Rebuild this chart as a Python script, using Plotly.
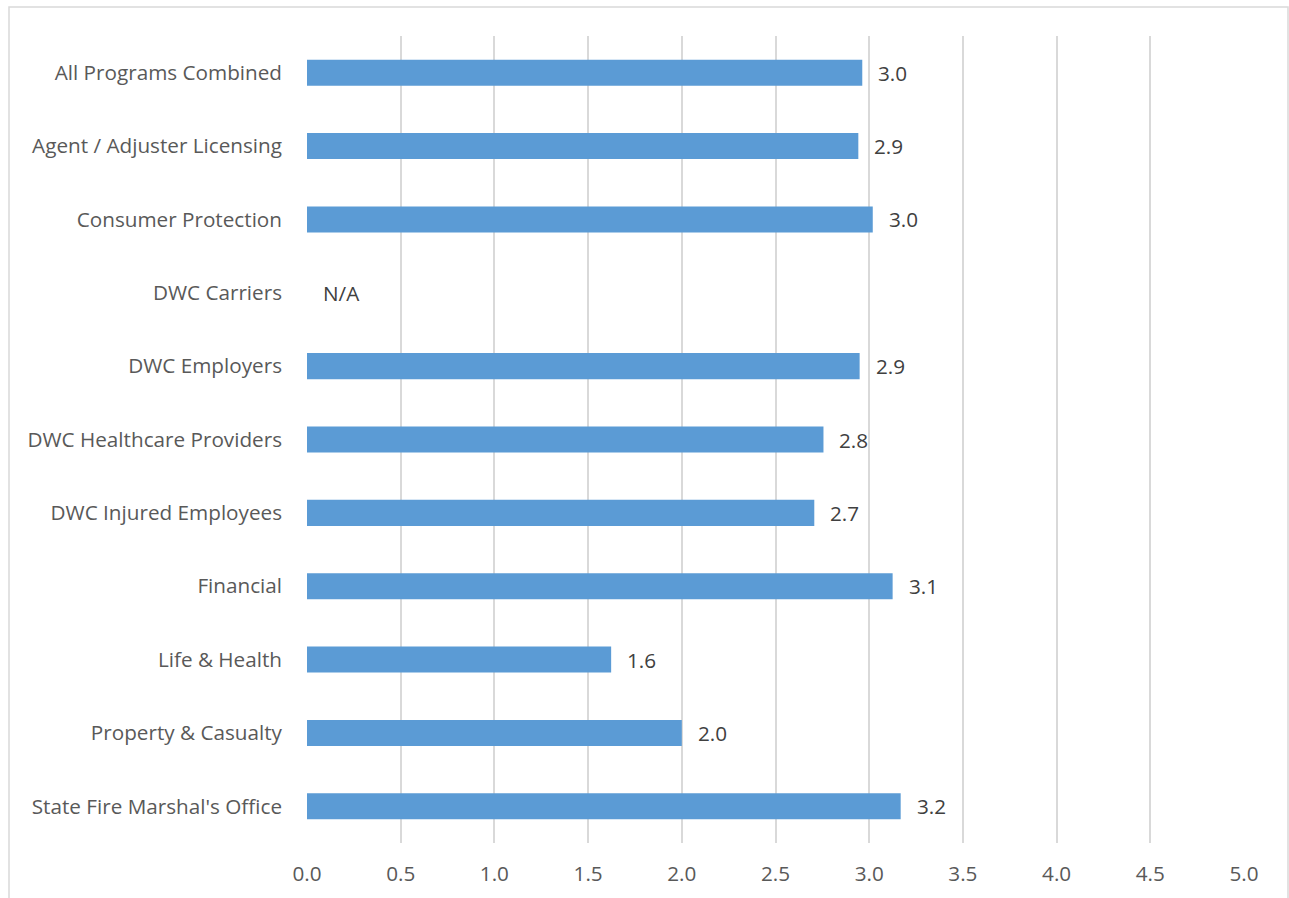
import plotly.graph_objects as go

# Program areas, listed top to bottom
programs = [
    "All Programs Combined",
    "Agent / Adjuster Licensing",
    "Consumer Protection",
    "DWC Carriers",
    "DWC Employers",
    "DWC Healthcare Providers",
    "DWC Injured Employees",
    "Financial",
    "Life & Health",
    "Property & Casualty",
    "State Fire Marshal's Office",
]
# Average score per program (None = not available)
scores = [2.963, 2.942, 3.019, None, 2.949, 2.756, 2.707, 3.125, 1.623, 2.0, 3.168]

x_ticks = [0, 0.5, 1, 1.5, 2, 2.5, 3, 3.5, 4, 4.5, 5]
x_tick_labels = ["0.0", "0.5", "1.0", "1.5", "2.0", "2.5", "3.0", "3.5", "4.0", "4.5", "5.0"]

BAR_COLOR = "#5B9BD5"
FONT = "Open Sans"
SIZE = 20.7

fig = go.Figure(
    go.Bar(
        x=scores,
        y=programs,
        orientation="h",
        width=0.355,
        marker=dict(color=BAR_COLOR, line=dict(width=0)),
        hoverinfo="x+y",
    )
)

# Value labels to the right of each bar; "N/A" where no score exists
annotations = []
for name, val in zip(programs, scores):
    annotations.append(dict(
        x=0 if val is None else val,
        y=name, xref="x", yref="y",
        text="N/A" if val is None else f"{val:.1f}",
        showarrow=False, xanchor="left", xshift=14,
        font=dict(family=FONT, size=SIZE, color="#404040"),
    ))

fig.update_layout(
    width=1289,
    height=898,
    margin=dict(l=307, r=45, t=36, b=55, pad=0),
    paper_bgcolor="white",
    plot_bgcolor="white",
    showlegend=False,
    font=dict(family=FONT, size=SIZE, color="#595959"),
    annotations=annotations,
    shapes=[dict(
        type="rect", xref="paper", yref="paper",
        x0=-298 / 937, x1=1288 / 937 - 307 / 937,
        y0=-0.2, y1=1 + 29 / 807,
        line=dict(color="#D9D9D9", width=1.5), layer="below",
    )],
)

fig.update_xaxes(
    range=[0, 5],
    tickvals=x_ticks,
    ticktext=x_tick_labels,
    showgrid=True,
    gridcolor="#D9D9D9",
    gridwidth=1.5,
    zeroline=False,
    showline=False,
    ticks="",
    ticklabelstandoff=16,
    tickfont=dict(size=SIZE, color="#595959"),
    fixedrange=True,
)
fig.update_yaxes(
    categoryorder="array",
    categoryarray=programs,
    autorange="reversed",
    showgrid=False,
    zeroline=False,
    showline=False,
    ticks="",
    ticklabelstandoff=24,
    tickfont=dict(size=SIZE, color="#595959"),
    fixedrange=True,
)

fig.write_html("out.html")
